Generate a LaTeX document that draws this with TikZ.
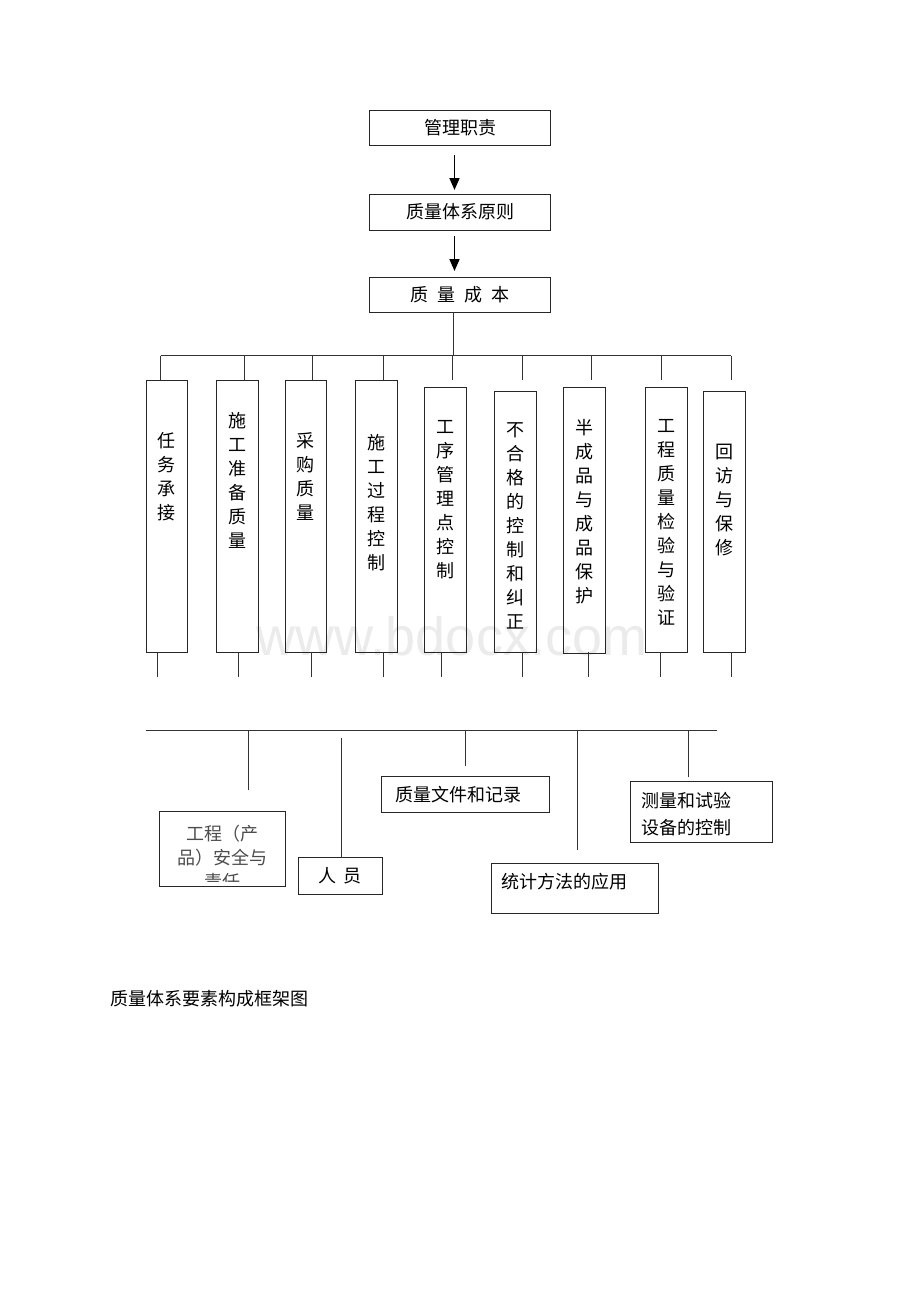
\documentclass[tikz,border=0pt]{standalone}
\usepackage{fontspec}
\setmainfont{Noto Sans CJK SC}
\newfontfamily\wmfont{Liberation Sans}
\usetikzlibrary{arrows.meta,calc}
\begin{document}
\begin{tikzpicture}[x=1pt,y=-1pt,
  frame/.style={draw=black!85, line width=0.8pt, inner sep=0pt},
  conn/.style={draw=black!80, line width=0.8pt},
  arr/.style={line width=1.7pt,-{Triangle[length=12pt,width=10pt]}},
  txt/.style={font=\fontsize{18}{24}\selectfont, inner sep=0pt},
  vtxt/.style={font=\fontsize{18}{24}\selectfont, inner sep=0pt, align=center, anchor=north},
]
\useasboundingbox[fill=white] (0,0) rectangle (920,1302);

% watermark
\node[font=\wmfont\fontsize{54}{54}\selectfont, text=black!8, anchor=base, inner sep=0pt] (wm) at (452,655) {www.bdocx.com};

% top chain
\node[frame, txt, minimum width=181pt, minimum height=35pt] (b1) at (460,127.5) {管理职责};
\node[frame, txt, minimum width=181pt, minimum height=36pt] (b2) at (460,212) {质量体系原则};
\node[frame, txt, minimum width=181pt, minimum height=35pt] (b3) at (460,294.5) {质\hspace{9pt}量\hspace{9pt}成\hspace{9pt}本};

\coordinate (a1s) at (454.5,155);
\coordinate (a1e) at (454.5,190);
\coordinate (a2s) at (454.5,236);
\coordinate (a2e) at (454.5,271);
\draw[arr] (a1s) -- (a1e);
\draw[arr] (a2s) -- (a2e);

\coordinate (bl) at (160.5,355.5);
\coordinate (br) at (731,355.5);
\draw[conn] (b3.south -| 453,0) -- (453,355.5);
\draw[conn] (bl) -- (br);

% vertical boxes
\node[frame, minimum width=41pt, minimum height=272pt] (v1) at (166.5,516) {};
\node[frame, minimum width=42pt, minimum height=272pt] (v2) at (237,516) {};
\node[frame, minimum width=41pt, minimum height=272pt] (v3) at (305.5,516) {};
\node[frame, minimum width=42pt, minimum height=272pt] (v4) at (376,516) {};
\node[frame, minimum width=42pt, minimum height=264.5pt] (v5) at (445,519.75) {};
\node[frame, minimum width=42pt, minimum height=260.5pt] (v6) at (515,521.75) {};
\node[frame, minimum width=42pt, minimum height=265.5pt] (v7) at (584,520.25) {};
\node[frame, minimum width=42pt, minimum height=264.5pt] (v8) at (666,519.75) {};
\node[frame, minimum width=42pt, minimum height=260.5pt] (v9) at (724,521.75) {};

\node[vtxt] (t1) at (166.5,432) {任\\务\\承\\接};
\node[vtxt] (t2) at (237,412) {施\\工\\准\\备\\质\\量};
\node[vtxt] (t3) at (305.5,432) {采\\购\\质\\量};
\node[vtxt] (t4) at (376,434) {施\\工\\过\\程\\控\\制};
\node[vtxt] (t5) at (445,420) {工\\序\\管\\理\\点\\控\\制};
\node[vtxt] (t6) at (515,422) {不\\合\\格\\的\\控\\制\\和\\纠\\正};
\node[vtxt] (t7) at (584,419) {半\\成\\品\\与\\成\\品\\保\\护};
\node[vtxt] (t8) at (666,419) {工\\程\\质\\量\\检\\验\\与\\验\\证};
\node[vtxt] (t9) at (724,444) {回\\访\\与\\保\\修};

% drops from bar
\foreach \x in {160.5,244.7,312.7,383,452.5,522.6,591,661.7,731}
  \draw[conn] (\x,355.5) -- (\x,380);
% stubs below boxes
\foreach \x in {157,238.8,311,383,441,522.6,588,660,731.7}
  \draw[conn] (\x,652) -- (\x,677);

% bottom bar
\coordinate (ql) at (146,730);
\coordinate (qr) at (717,730);
\draw[conn] (ql) -- (qr);

\node[frame, minimum width=126pt, minimum height=75pt] (g1) at (222,848.5) {};
\node[frame, txt, minimum width=84pt, minimum height=36.5pt] (g2) at (340,875.75) {人\hspace{8pt}员};
\node[frame, minimum width=167.5pt, minimum height=36pt] (g3) at (465.25,794) {};
\node[frame, minimum width=167pt, minimum height=50pt] (g4) at (574.5,888) {};
\node[frame, minimum width=142pt, minimum height=61pt] (g5) at (701,811.5) {};

\begin{scope}
\clip (160,812) rectangle (284,881);
\node[vtxt, text=black!70] (g1t) at (222,825) {工程（产\\品）安全与\\责任};
\end{scope}
\node[txt, anchor=west] (g3t) at (395,795) {质量文件和记录};
\node[txt, anchor=west] (g4t) at (501,882) {统计方法的应用};
\node[inner sep=0pt, font=\fontsize{18}{27}\selectfont, align=left, anchor=north west] (g5t) at (641,792) {测量和试验\\设备的控制};

\draw[conn] (248,730) -- (248,790);
\draw[conn] (341,737.5) -- (341,857.5);
\draw[conn] (465,730) -- (465,766);
\draw[conn] (577,730) -- (577,850);
\draw[conn] (688,730) -- (688,777);

% caption
\node[txt, anchor=west] (cap) at (110,999) {质量体系要素构成框架图};
\end{tikzpicture}
\end{document}
